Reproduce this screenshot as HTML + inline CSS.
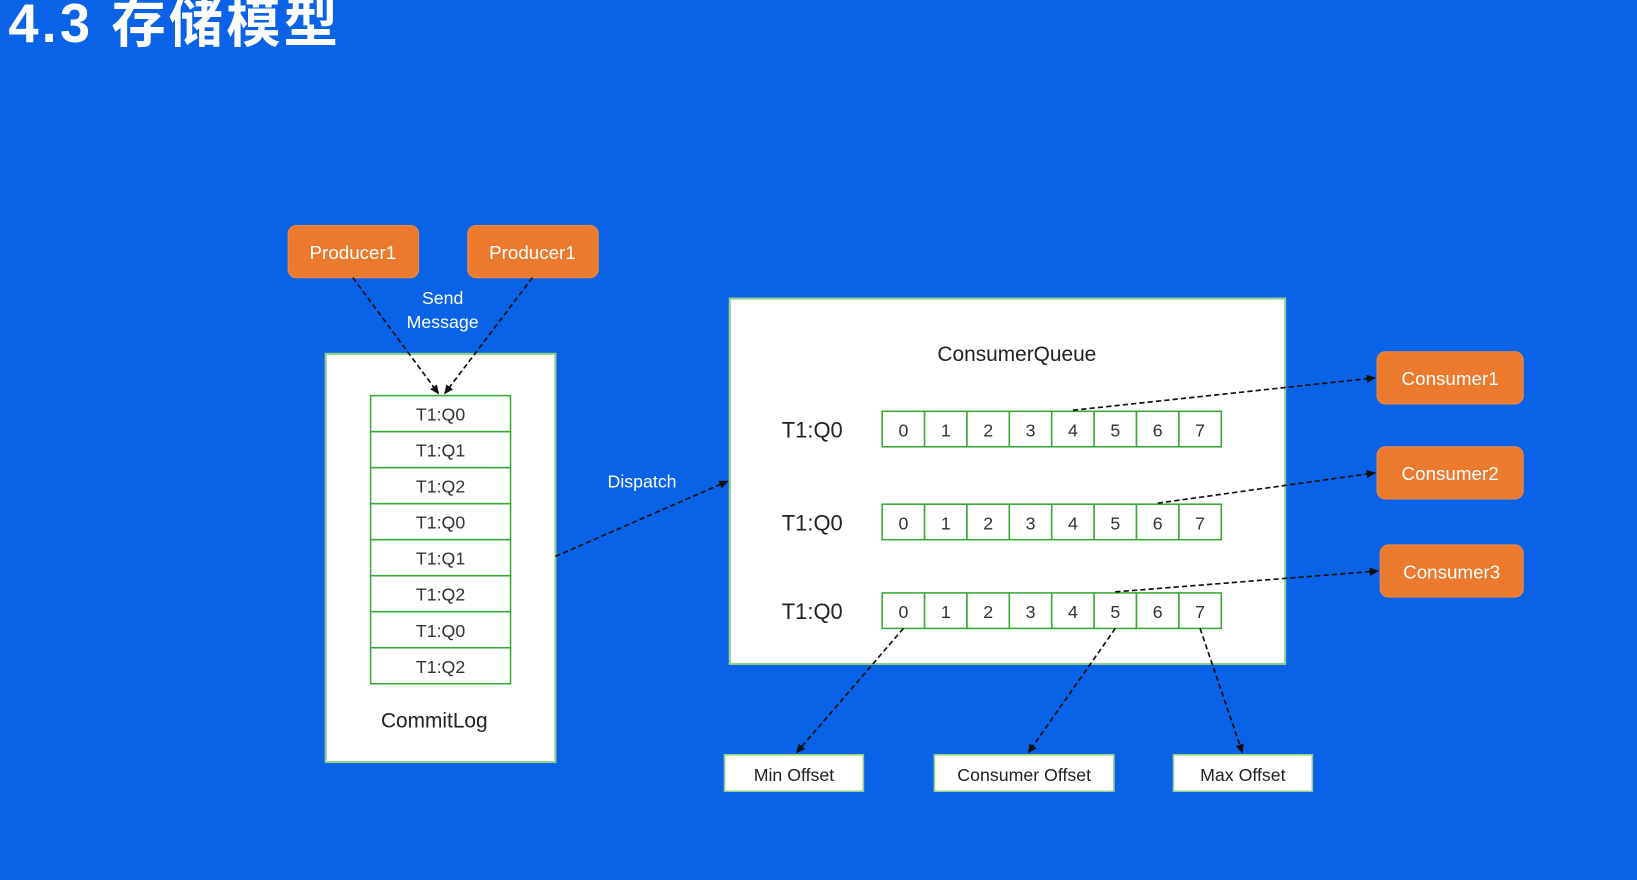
<!DOCTYPE html>
<html><head><meta charset="utf-8"><style>
html,body{margin:0;padding:0;background:#0a63e6;overflow:hidden}
svg{display:block}
text{font-family:"Liberation Sans","Noto Sans CJK SC",sans-serif}
</style></head><body>
<svg id="s" width="1637" height="880" viewBox="0 0 1568 843" preserveAspectRatio="none" xmlns="http://www.w3.org/2000/svg">
<defs><marker id="ah" markerWidth="10" markerHeight="10" refX="8" refY="5" orient="auto" markerUnits="userSpaceOnUse"><path d="M0,1 L9,5 L0,9 z" fill="#111"/></marker></defs>
<rect x="0" y="0" width="1568" height="843" fill="#0a63e6"/>
<text x="8" y="40" font-size="52" font-weight="bold" letter-spacing="3" fill="#fff">4.3 存储模型</text>
<g id="g"></g>
</svg>
<script>
const commitEntries=["T1:Q0","T1:Q1","T1:Q2","T1:Q0","T1:Q1","T1:Q2","T1:Q0","T1:Q2"];
const queueRows=["T1:Q0","T1:Q0","T1:Q0"];
const queueCells=[0,1,2,3,4,5,6,7];
const consumerNames=["Consumer1","Consumer2","Consumer3"];
const consumerPointers=[4,6,5];
const offsetLabels=["Min Offset","Consumer Offset","Max Offset"];
const offsetPointers=[0,5,7];

const NS="http://www.w3.org/2000/svg";
const g=document.getElementById('g');
function el(t,a,txt){const e=document.createElementNS(NS,t);for(const k in a)e.setAttribute(k,a[k]);if(txt!==undefined)e.textContent=txt;g.appendChild(e);return e;}
function line(x1,y1,x2,y2,name){const e=el('line',{x1,y1,x2,y2,stroke:'#111','stroke-width':1.6,'stroke-dasharray':'5,3','marker-end':'url(#ah)'});

}
function label(x,y,s,txt,fill,name){const e=el('text',{x,y,'font-size':s,fill,'text-anchor':'middle'},txt);

}

[[276,"producer-1"],[448,"producer-2"]].forEach(([x,n])=>{
 const r=el('rect',{x,y:216,width:125,height:50,rx:8,fill:'#ec7a2e',stroke:'#f08a45'});
 
 
 label(x+62,248,18,'Producer1','#fff',n+'-label');
});
label(424,291,17,'Send','#fff','send-label');
label(424,314,17,'Message','#fff','message-label');

let b=el('rect',{x:312,y:339,width:220,height:391,fill:'#fff',stroke:'#8fd18a','stroke-width':2});


const eh=34.5;
commitEntries.forEach((t,i)=>{
 const y=379+i*eh;
 const r=el('rect',{x:355,y,width:134,height:eh,fill:'#fff',stroke:'#3aa935','stroke-width':1.5});
 
 
 label(422,y+24,17,t,'#333','commitlog-entry-label');
});
label(416,697,20,'CommitLog','#222','commitlog-title');
line(338,266,420,377,'send-arrow-1');
line(510,266,426,377,'send-arrow-2');

label(615,467,17,'Dispatch','#fff','dispatch-label');
line(532,533,697,461,'dispatch-arrow');

b=el('rect',{x:699,y:286,width:532,height:350,fill:'#fff',stroke:'#8fd18a','stroke-width':2});


label(974,346,20,'ConsumerQueue','#222','consumerqueue-title');
const rowY=[394,483,568], cw=40.6, cx0=845, ch=34;
queueRows.forEach((t,r)=>{
 label(778,rowY[r]+25,21,t,'#222','queue-row-label');
 queueCells.forEach((v,i)=>{
  const c=el('rect',{x:cx0+i*cw,y:rowY[r],width:cw,height:ch,fill:'#fff',stroke:'#3aa935','stroke-width':1.5});
  
  
  label(cx0+i*cw+cw/2,rowY[r]+24,17,String(v),'#333','queue-cell-label');
 });
});
const consY=[337,428,522];
consumerNames.forEach((n,i)=>{
 const x=i==2?1322:1319,w=i==2?137:140;
 const r=el('rect',{x,y:consY[i],width:w,height:50,rx:8,fill:'#ec7a2e',stroke:'#f08a45'});
 
 
 label(x+w/2,consY[i]+32,18,n,'#fff','consumer-label');
 const p=consumerPointers[i];
 line(cx0+p*cw+cw/2,rowY[i]-1,x-2,consY[i]+25,'consumer-pointer-arrow');
});
const offX=[694,895,1124],offW=[133,172,133];
offsetLabels.forEach((t,i)=>{
 const r=el('rect',{x:offX[i],y:723,width:offW[i],height:35,fill:'#fff',stroke:'#8fd18a','stroke-width':1.5});
 
 
 label(offX[i]+offW[i]/2,748,17,t,'#222','offset-label');
 const p=offsetPointers[i];
 const tx=[763,985,1190][i];
 line(cx0+p*cw+cw/2,rowY[2]+ch,tx,721,'offset-arrow');
});
</script>
</body></html>
